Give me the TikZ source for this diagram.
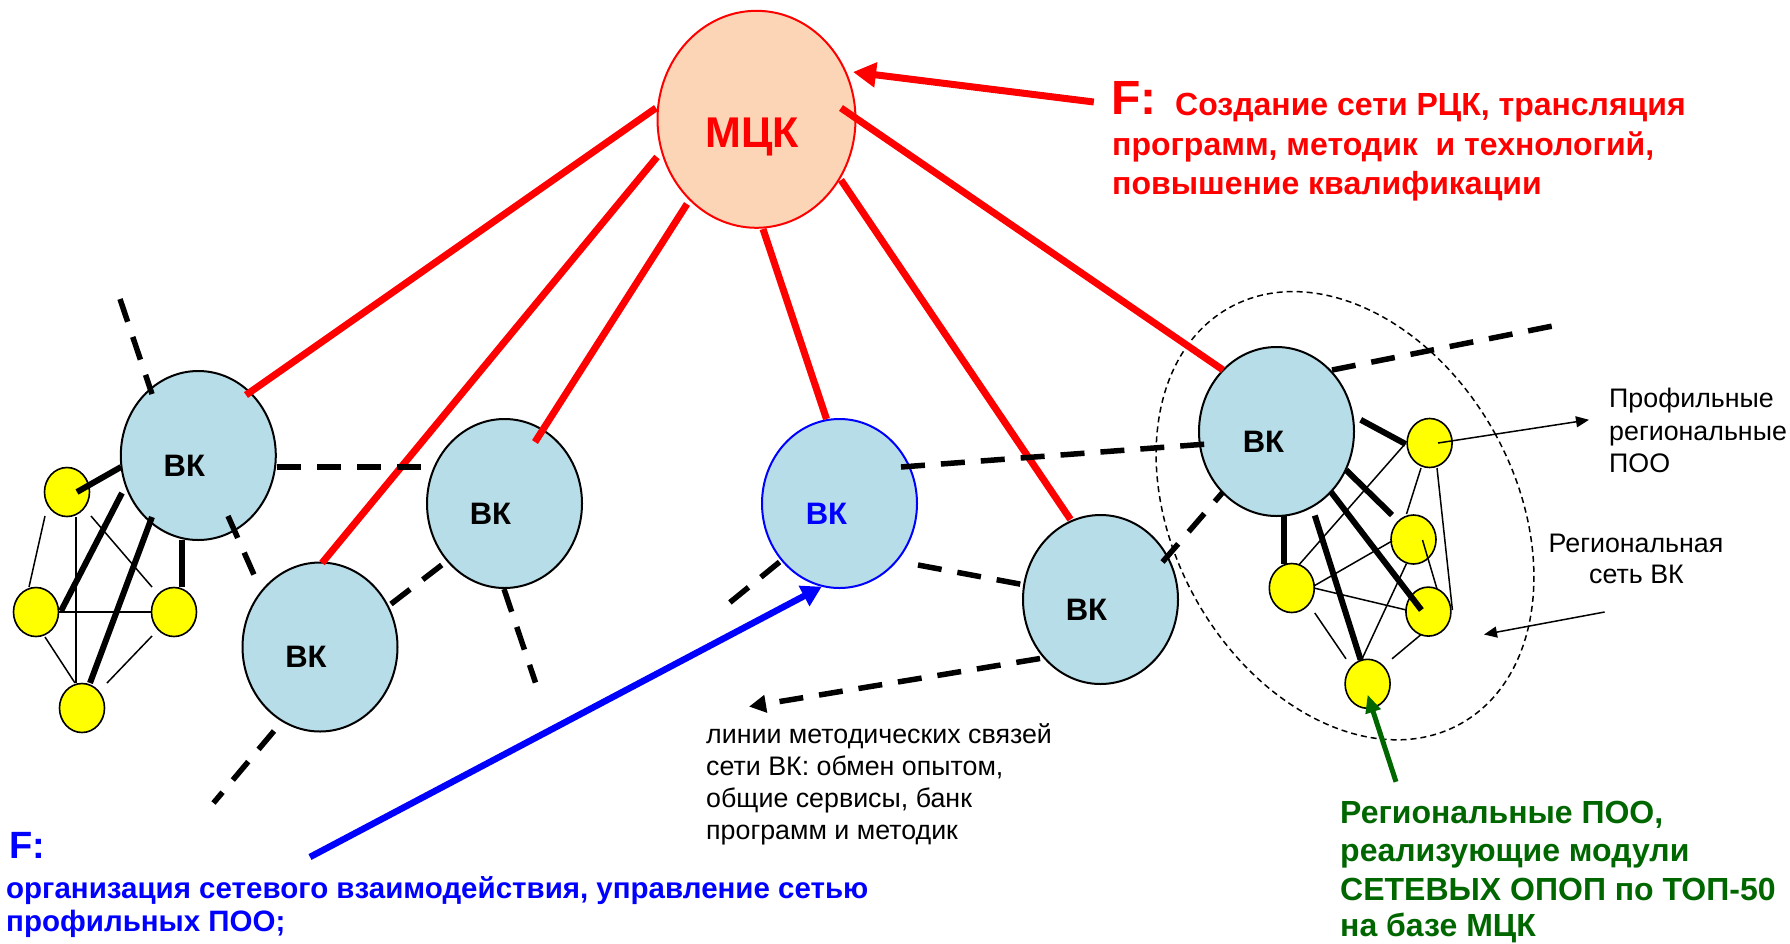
\documentclass[tikz,border=0pt]{standalone}
\usepackage{fontspec}
\setmainfont{Liberation Sans}
\usetikzlibrary{arrows.meta,calc,shapes.geometric}
\definecolor{vkfill}{RGB}{183,221,232}
\definecolor{mckfill}{RGB}{251,213,181}
\definecolor{myred}{RGB}{255,0,0}
\definecolor{myblue}{RGB}{0,0,255}
\definecolor{mygreen}{RGB}{0,102,0}
\definecolor{myyellow}{RGB}{255,255,0}
\tikzset{
  vk/.style={ellipse,draw=black,line width=2pt,fill=vkfill,minimum width=155pt,minimum height=169pt,inner sep=0pt},
  vkblue/.style={vk,draw=myblue},
  mckstyle/.style={ellipse,draw=myred,line width=2pt,fill=mckfill,minimum width=198pt,minimum height=217pt,inner sep=0pt},
  yel/.style={ellipse,draw=black,line width=1.6pt,fill=myyellow,minimum width=45pt,minimum height=49pt,inner sep=0pt},
  vktext/.style={anchor=base,inner sep=0pt,font=\fontsize{31}{31}\selectfont\bfseries},
  redline/.style={draw=myred,line width=7pt},
  dashline/.style={draw=black,line width=5.5pt,dash pattern=on 24pt off 16pt},
  thickline/.style={draw=black,line width=6pt},
  thinline/.style={draw=black,line width=1.5pt},
  redtxt/.style={anchor=base west,inner sep=0pt,text=myred,font=\fontsize{32}{32}\selectfont\bfseries},
  bluetxt/.style={anchor=base west,inner sep=0pt,text=myblue,font=\fontsize{29.5}{29.5}\selectfont\bfseries},
  greentxt/.style={anchor=base west,inner sep=0pt,text=mygreen,font=\fontsize{32}{32}\selectfont\bfseries},
  blacktxt/.style={anchor=base west,inner sep=0pt,text=black,font=\fontsize{26.8}{26.8}\selectfont},
}
\begin{document}
\begin{tikzpicture}[x=1pt,y=-1pt]
\useasboundingbox (0,0) rectangle (1790,943);
% ---- nodes
\node[mckstyle] (mck) at (756.5,119.3) {};
\node[anchor=base,inner sep=0pt,text=myred,font=\fontsize{43}{43}\selectfont\bfseries] (mckt) at (752,147) {МЦК};
\node[vk] (vk1) at (198.3,455.5) {};
\node[vk] (vk2) at (504.5,503.5) {};
\node[vk] (vk3) at (320,647) {};
\node[vkblue] (vkb) at (839.5,503.5) {};
\node[vk] (vk4) at (1276.5,431.5) {};
\node[vk] (vk5) at (1100.5,599.5) {};
\node[vktext] (t1) at ($(vk1)+(-14,20.5)$) {ВК};
\node[vktext] (t2) at ($(vk2)+(-14,20.5)$) {ВК};
\node[vktext] (t3) at ($(vk3)+(-14,20.5)$) {ВК};
\node[vktext,text=myblue] (tb) at ($(vkb)+(-13,20.5)$) {ВК};
\node[vktext] (t4) at ($(vk4)+(-13,20.5)$) {ВК};
\node[vktext] (t5) at ($(vk5)+(-14,20.5)$) {ВК};
% left cluster
\node[yel] (yl1) at (67,492) {};
\node[yel] (yl2) at (36,612) {};
\node[yel] (yl3) at (174,612) {};
\node[yel] (yl4) at (82,708) {};
% right cluster
\coordinate (regc) at (1345,515.7);
\draw[line width=1.5pt,dash pattern=on 6pt off 4pt,rotate around={29:(regc)}] (regc) ellipse [x radius=171, y radius=238];
\node[yel] (yr1) at (1429.6,443) {};
\node[yel] (yr2) at (1413.5,539.5) {};
\node[yel] (yr3) at (1291.8,588) {};
\node[yel] (yr4) at (1428.4,611.6) {};
\node[yel] (yr5) at (1367.6,683.8) {};
% ---- red lines
\draw[redline] ($(mck)+(-100.5,-11.3)$) -- ($(vk1)+(47.7,-60.5)$);
\draw[redline] ($(mck)+(-99.5,37.7)$) -- ($(vk3)+(2,-84)$);
\draw[redline] ($(mck)+(-69.5,84.7)$) -- ($(vk2)+(30.5,-61.5)$);
\draw[redline] ($(mck)+(6.5,109.7)$) -- ($(vkb)+(-13,-84.5)$);
\draw[redline] ($(mck)+(84.5,60.7)$) -- ($(vk5)+(-30,-80)$);
\draw[redline] ($(mck)+(84.5,-11.3)$) -- ($(vk4)+(-53.5,-61.5)$);
\coordinate (rstart) at (1093.8,102);
\draw[redline,-{Triangle[length=23pt,width=24pt]}] (rstart) -- ($(mck)+(96.5,-47.3)$);
% ---- dashed lines
\coordinate (d1) at (120,299);
\coordinate (d3) at (255,577);
\coordinate (d5) at (535.5,682.6);
\coordinate (d6) at (213.5,803);
\coordinate (d7) at (728,604);
\coordinate (d10) at (749,706.6);
\coordinate (d12) at (1558.7,324.8);
\draw[dashline] (d1) -- ($(vk1)+(-46.3,-61.5)$);
\draw[dashline] ($(vk1)+(78.7,11.5)$) -- ($(vk2)+(-76.5,-36.5)$);
\draw[dashline] ($(vk1)+(29.7,60.5)$) -- (d3);
\draw[dashline] ($(vk3)+(71,-43)$) -- ($(vk2)+(-61.5,60.5)$);
\draw[dashline] ($(vk2)+(-0.5,85.5)$) -- (d5);
\draw[dashline] ($(vk3)+(-46,84)$) -- (d6);
\draw[dashline] ($(vkb)+(-60,58.5)$) -- (d7);
\draw[dashline] ($(vkb)+(61.5,-36.5)$) -- ($(vk4)+(-69.5,12.5)$);
\draw[dashline] ($(vkb)+(78.5,61.5)$) -- ($(vk5)+(-75.5,-14.5)$);
\draw[dashline,-{Triangle[length=17pt,width=17pt]}] ($(vk5)+(-60.5,59)$) -- (d10);
\draw[dashline] ($(vk5)+(62,-37.5)$) -- ($(vk4)+(-53.5,60.5)$);
\draw[dashline] ($(vk4)+(55.5,-61.5)$) -- (d12);
% ---- left cluster links
\draw[thickline] ($(yl1)+(10,0)$) -- ($(vk1)+(-77.3,11.5)$);
\draw[thickline] ($(yl2)+(25,-1)$) -- ($(vk1)+(-76.3,37.5)$);
\draw[thickline] ($(yl4)+(8,-25)$) -- ($(vk1)+(-46.3,61.5)$);
\draw[thickline] ($(vk1)+(-16.3,84.5)$) -- ($(yl3)+(8,-25)$);
\draw[thinline] ($(yl1)+(-22,24)$) -- ($(yl2)+(-7,-25)$);
\draw[thinline] ($(yl1)+(9,25)$) -- ($(yl4)+(-6,-25)$);
\draw[thinline] ($(yl1)+(24,24)$) -- ($(yl3)+(-22,-25)$);
\draw[thinline] ($(yl2)+(23,0)$) -- ($(yl3)+(-22,0)$);
\draw[thinline] ($(yl2)+(9,25)$) -- ($(yl4)+(-7,-25)$);
\draw[thinline] ($(yl3)+(-22,24)$) -- ($(yl4)+(25,-25)$);
% ---- right cluster links
\draw[thickline] ($(vk4)+(84.2,-11.7)$) -- ($(yr1)+(-24,1)$);
\draw[thickline] ($(vk4)+(69.5,38.5)$) -- ($(yr2)+(-21.5,-24.5)$);
\draw[thickline] ($(vk4)+(54.5,60.5)$) -- ($(yr4)+(-7,-1.6)$);
\draw[thickline] ($(vk4)+(38.3,84)$) -- ($(yr5)+(-7,-24)$);
\draw[thickline] ($(vk4)+(7.3,84)$) -- ($(yr3)+(-8,-24)$);
\draw[thinline] ($(yr1)+(-24.6,1)$) -- ($(yr3)+(7,-23)$);
\draw[thinline] ($(yr1)+(-8.6,25)$) -- ($(yr2)+(-7,-25.5)$);
\draw[thinline] ($(yr1)+(7.4,25)$) -- ($(yr4)+(24,-1.6)$);
\draw[thinline] ($(yr2)+(-21.5,1.5)$) -- ($(yr3)+(22,-2)$);
\draw[thinline] ($(yr2)+(9,0.5)$) -- ($(yr4)+(8.6,-22.6)$);
\draw[thinline] ($(yr3)+(22,0)$) -- ($(yr4)+(-22,-1.6)$);
\draw[thinline] ($(yr2)+(-7,24)$) -- ($(yr5)+(-6,-24)$);
\draw[thinline] ($(yr3)+(23,25)$) -- ($(yr5)+(-21.6,-25)$);
\draw[thinline] ($(yr4)+(-7.4,23)$) -- ($(yr5)+(24.4,-25)$);
% ---- annotation arrows
\coordinate (pa) at (1589,419.8);
\draw[thinline,-{Triangle[length=13pt,width=11pt]}] ($(yr1)+(8.4,0)$) -- (pa);
\coordinate (ra1) at (1604.6,612);
\coordinate (ra2) at (1484,634.5);
\draw[thinline,-{Triangle[length=13pt,width=11pt]}] (ra1) -- (ra2);
\coordinate (gstart) at (1396,781.8);
\draw[draw=mygreen,line width=5pt,-{Triangle[length=18pt,width=15pt]}] (gstart) -- ($(yr5)+(0,10.8)$);
\coordinate (bstart) at (310,857);
\draw[draw=myblue,line width=6.5pt,-{Triangle[length=20pt,width=22pt]}] (bstart) -- ($(vkb)+(-17.8,83.2)$);
% ---- texts
\node[redtxt,font=\fontsize{48}{48}\selectfont\bfseries] (rf) at (1111,114) {F:};
\node[redtxt] (r1) at (1175,115.5) {Создание сети РЦК, трансляция};
\node[redtxt] (r2) at (1112,155) {программ, методик\ \ и технологий,};
\node[redtxt] (r3) at (1112,194) {повышение квалификации};
\node[bluetxt,font=\fontsize{38}{38}\selectfont\bfseries] (bf) at (9,858) {F:};
\node[bluetxt] (b1) at (6,898.3) {организация сетевого взаимодействия, управление сетью};
\node[bluetxt] (b2) at (6,931.7) {профильных ПОО;};
\node[greentxt] (g1) at (1340,823.3) {Региональные ПОО,};
\node[greentxt] (g2) at (1340,861.8) {реализующие модули};
\node[greentxt] (g3) at (1340,900.3) {СЕТЕВЫХ ОПОП по ТОП-50};
\node[greentxt] (g4) at (1340,936.7) {на базе МЦК};
\node[blacktxt] (k1) at (706,743) {линии методических связей};
\node[blacktxt] (k2) at (706,775.5) {сети ВК: обмен опытом,};
\node[blacktxt] (k3) at (706,807) {общие сервисы, банк};
\node[blacktxt] (k4) at (706,839) {программ и методик};
\node[blacktxt] (p1) at (1609,407.7) {Профильные};
\node[blacktxt] (p2) at (1609,440) {региональные};
\node[blacktxt] (p3) at (1609,472) {ПОО};
\node[blacktxt,anchor=base] (s1) at (1636,552) {Региональная};
\node[blacktxt,anchor=base] (s2) at (1636.5,583) {сеть ВК};
\end{tikzpicture}
\end{document}
